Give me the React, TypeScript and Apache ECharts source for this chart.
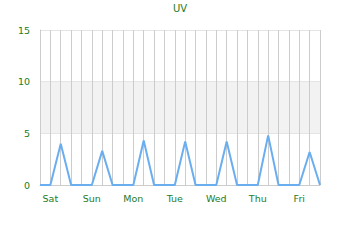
import React, { useEffect, useRef } from "react";
import * as echarts from "echarts";

const days = ["Sat", "Sun", "Mon", "Tue", "Wed", "Thu", "Fri"];
const hours = ["00", "06", "12", "18"];
const categories: string[] = days.flatMap((d) => hours.map((h) => `${d} ${h}`));
const uvValues = [
  0, 0, 4.0, 0,
  0, 0, 3.3, 0,
  0, 0, 4.3, 0,
  0, 0, 4.2, 0,
  0, 0, 4.2, 0,
  0, 0, 4.8, 0,
  0, 0, 3.2, 0,
];
const yTicks = { min: 0, max: 15, interval: 5 };

export default function App() {
  const ref = useRef<HTMLDivElement>(null);
  useEffect(() => {
    document.body.style.margin = "0";
    if (!ref.current) return;
    const chart = echarts.init(ref.current, undefined, { renderer: "svg" });
    const green = "#1e7b1e";
    const font = "DejaVu Sans";
    chart.setOption({
      animation: false,
      title: {
        text: "UV",
        left: "center",
        top: 3,
        padding: 0,
        textStyle: { color: green, fontSize: 10, fontWeight: "normal", fontFamily: font },
      },
      grid: { left: 40, right: 40, top: 30, bottom: 55 },
      xAxis: {
        type: "category",
        data: categories,
        boundaryGap: false,
        axisLine: { lineStyle: { color: "#cccccc" } },
        axisTick: { show: false },
        axisLabel: {
          color: green,
          fontSize: 9.5,
          fontFamily: font,
          margin: 8,
          interval: (i: number) => i % 4 === 1,
          formatter: (v: string) => v.split(" ")[0],
        },
        splitLine: { show: true, interval: 0, lineStyle: { color: "#cccccc" } },
      },
      yAxis: {
        type: "value",
        min: yTicks.min,
        max: yTicks.max,
        interval: yTicks.interval,
        axisLine: { show: true, lineStyle: { color: "#cccccc" } },
        axisLabel: { color: green, fontSize: 9.5, fontFamily: font, margin: 10 },
        splitLine: { show: true, lineStyle: { color: "#e4e4e4" } },
        splitArea: { show: true, areaStyle: { color: ["#ffffff", "#f2f2f2"] } },
      },
      series: [
        {
          type: "line",
          data: uvValues,
          showSymbol: false,
          symbol: "none",
          lineStyle: { color: "#6aaef0", width: 2 },
        },
      ],
    });
    return () => chart.dispose();
  }, []);
  return <div ref={ref} style={{ width: 360, height: 240 }} />;
}
